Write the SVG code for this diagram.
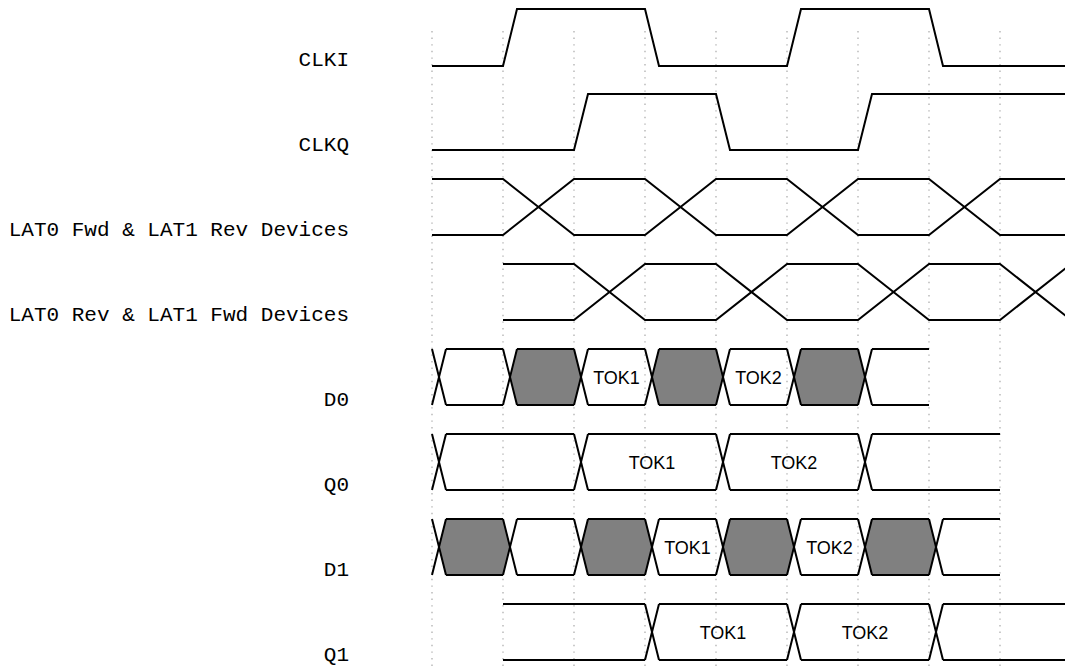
<svg xmlns="http://www.w3.org/2000/svg" width="1065" height="669" viewBox="0 0 1065 669">
<style>
.lbl{font-family:"Liberation Mono","DejaVu Sans Mono",monospace;font-size:21px;fill:#000;text-anchor:end}
.tok{font-family:"Liberation Sans",Arial,sans-serif;font-size:18px;fill:#000;text-anchor:middle}
.w{fill:none;stroke:#000;stroke-width:2}
.g{fill:#808080;stroke:none}
.grid{stroke:#a8a8a8;stroke-width:1.2;stroke-dasharray:1.4 5.2}
</style>
<rect width="1065" height="669" fill="#fff"/>
<g id="grid">
<line class="grid" x1="432" y1="31" x2="432" y2="669"/>
<line class="grid" x1="503" y1="31" x2="503" y2="669"/>
<line class="grid" x1="574" y1="31" x2="574" y2="669"/>
<line class="grid" x1="645" y1="31" x2="645" y2="669"/>
<line class="grid" x1="716" y1="31" x2="716" y2="669"/>
<line class="grid" x1="787" y1="31" x2="787" y2="669"/>
<line class="grid" x1="858" y1="31" x2="858" y2="669"/>
<line class="grid" x1="929" y1="31" x2="929" y2="669"/>
<line class="grid" x1="1000" y1="31" x2="1000" y2="669"/>
</g>
<g id="labels">
<text class="lbl" x="349" y="66">CLKI</text>
<text class="lbl" x="349" y="151">CLKQ</text>
<text class="lbl" x="349" y="236">LAT0 Fwd &amp; LAT1 Rev Devices</text>
<text class="lbl" x="349" y="321">LAT0 Rev &amp; LAT1 Fwd Devices</text>
<text class="lbl" x="349" y="406">D0</text>
<text class="lbl" x="349" y="491">Q0</text>
<text class="lbl" x="349" y="576">D1</text>
<text class="lbl" x="349" y="661">Q1</text>
</g>
<g id="clki">
<path class="w" d="M432,66 L503,66 L517,9 L645,9 L659,66 L787,66 L801,9 L929,9 L943,66 L1065,66"/>
</g>
<g id="clkq">
<path class="w" d="M432,150 L574,150 L588,94 L716,94 L730,150 L858,150 L872,94 L1065,94"/>
</g>
<g id="lat-fwd">
<path class="w" d="M432,179 L503,179 L574,235 L645,235 L716,179 L787,179 L858,235 L929,235 L1000,179 L1065,179"/>
<path class="w" d="M432,235 L503,235 L574,179 L645,179 L716,235 L787,235 L858,179 L929,179 L1000,235 L1065,235"/>
</g>
<g id="lat-rev">
<path class="w" d="M503,264 L574,264 L645,320 L716,320 L787,264 L858,264 L929,320 L1000,320 L1071,264"/>
<path class="w" d="M503,320 L574,320 L645,264 L716,264 L787,320 L858,320 L929,264 L1000,264 L1071,320"/>
</g>
<g id="d0">
<polygon class="g" points="510,377 517,349 574,349 581,377 574,405 517,405"/>
<polygon class="g" points="652,377 659,349 716,349 723,377 716,405 659,405"/>
<polygon class="g" points="794,377 801,349 858,349 865,377 858,405 801,405"/>
<path class="w" d="M432,349 L446,405 M432,405 L446,349 M503,349 L517,405 M503,405 L517,349 M574,349 L588,405 M574,405 L588,349 M645,349 L659,405 M645,405 L659,349 M716,349 L730,405 M716,405 L730,349 M787,349 L801,405 M787,405 L801,349 M858,349 L872,405 M858,405 L872,349"/>
<path class="w" d="M446,349 L503,349 M446,405 L503,405 M517,349 L574,349 M517,405 L574,405 M588,349 L645,349 M588,405 L645,405 M659,349 L716,349 M659,405 L716,405 M730,349 L787,349 M730,405 L787,405 M801,349 L858,349 M801,405 L858,405 M872,349 L929,349 M872,405 L929,405"/>
<text class="tok" x="616.5" y="384">TOK1</text>
<text class="tok" x="758.5" y="384">TOK2</text>
</g>
<g id="q0">
<path class="w" d="M432,434 L446,490 M432,490 L446,434 M574,434 L588,490 M574,490 L588,434 M716,434 L730,490 M716,490 L730,434 M858,434 L872,490 M858,490 L872,434"/>
<path class="w" d="M446,434 L574,434 M446,490 L574,490 M588,434 L716,434 M588,490 L716,490 M730,434 L858,434 M730,490 L858,490 M872,434 L1000,434 M872,490 L1000,490"/>
<text class="tok" x="652" y="469">TOK1</text>
<text class="tok" x="794" y="469">TOK2</text>
</g>
<g id="d1">
<polygon class="g" points="439,547 446,519 503,519 510,547 503,575 446,575"/>
<polygon class="g" points="581,547 588,519 645,519 652,547 645,575 588,575"/>
<polygon class="g" points="723,547 730,519 787,519 794,547 787,575 730,575"/>
<polygon class="g" points="865,547 872,519 929,519 936,547 929,575 872,575"/>
<path class="w" d="M432,519 L446,575 M432,575 L446,519 M503,519 L517,575 M503,575 L517,519 M574,519 L588,575 M574,575 L588,519 M645,519 L659,575 M645,575 L659,519 M716,519 L730,575 M716,575 L730,519 M787,519 L801,575 M787,575 L801,519 M858,519 L872,575 M858,575 L872,519 M929,519 L943,575 M929,575 L943,519"/>
<path class="w" d="M446,519 L503,519 M446,575 L503,575 M517,519 L574,519 M517,575 L574,575 M588,519 L645,519 M588,575 L645,575 M659,519 L716,519 M659,575 L716,575 M730,519 L787,519 M730,575 L787,575 M801,519 L858,519 M801,575 L858,575 M872,519 L929,519 M872,575 L929,575 M943,519 L1000,519 M943,575 L1000,575"/>
<text class="tok" x="687.5" y="554">TOK1</text>
<text class="tok" x="829.5" y="554">TOK2</text>
</g>
<g id="q1">
<path class="w" d="M645,604 L659,660 M645,660 L659,604 M787,604 L801,660 M787,660 L801,604 M929,604 L943,660 M929,660 L943,604"/>
<path class="w" d="M503,604 L645,604 M503,660 L645,660 M659,604 L787,604 M659,660 L787,660 M801,604 L929,604 M801,660 L929,660 M943,604 L1065,604 M943,660 L1065,660"/>
<text class="tok" x="723" y="639">TOK1</text>
<text class="tok" x="865" y="639">TOK2</text>
</g>
</svg>
